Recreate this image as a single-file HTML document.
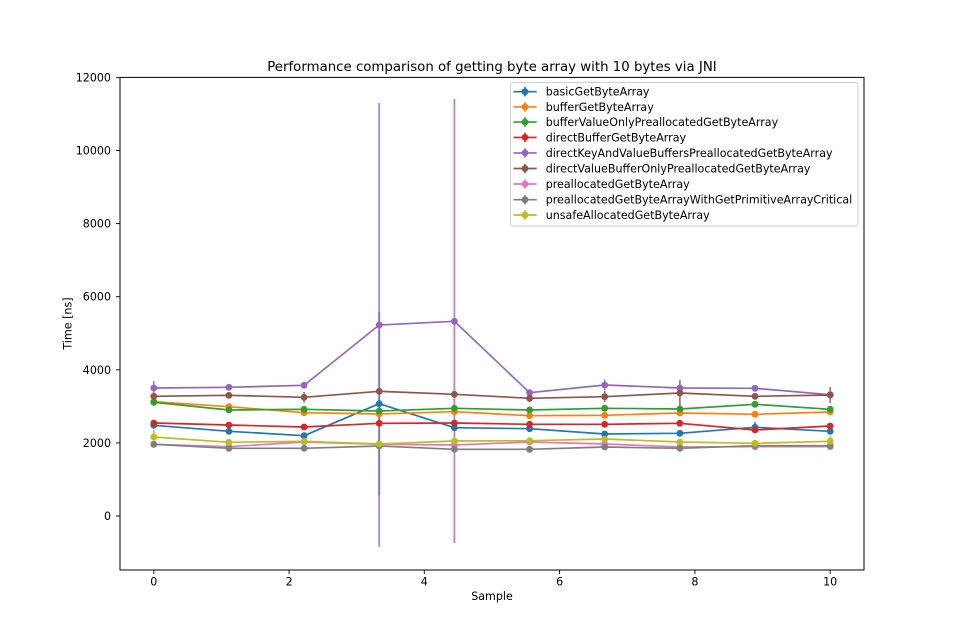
<!DOCTYPE html>
<html><head><meta charset="utf-8"><style>
html,body{margin:0;padding:0;background:#fff;}
svg{display:block;}
text{font-family:"DejaVu Sans","Liberation Sans",sans-serif;fill:#000;}
</style></head><body>
<svg width="960" height="640" viewBox="0 0 960 640" xmlns="http://www.w3.org/2000/svg">
<rect x="0" y="0" width="960" height="640" fill="#fff"/>
<!-- title -->
<text x="492" y="71" font-size="13.33" text-anchor="middle">Performance comparison of getting byte array with 10 bytes via JNI</text>

<!-- error bars (zorder below lines) -->
<g stroke-width="1.8" fill="none" stroke-opacity="0.78">
<line x1="379.2" y1="312" x2="379.2" y2="495.4" stroke="#1f77b4"/>
<line x1="755.0" y1="421.7" x2="755.0" y2="432.9" stroke="#1f77b4"/>
<line x1="153.8" y1="381" x2="153.8" y2="395" stroke="#9467bd"/>
<line x1="379.2" y1="103" x2="379.2" y2="547" stroke="#9467bd"/>
<line x1="454.4" y1="99" x2="454.4" y2="543" stroke="#9467bd"/>
<line x1="604.7" y1="379.5" x2="604.7" y2="390.5" stroke="#9467bd"/>
<line x1="304.1" y1="392" x2="304.1" y2="402.6" stroke="#8c564b"/>
<line x1="529.6" y1="394.3" x2="529.6" y2="402.3" stroke="#8c564b"/>
<line x1="604.7" y1="391" x2="604.7" y2="402" stroke="#8c564b"/>
<line x1="679.9" y1="380" x2="679.9" y2="406" stroke="#8c564b"/>
<line x1="830.2" y1="387" x2="830.2" y2="403" stroke="#8c564b"/>
<line x1="153.8" y1="430" x2="153.8" y2="444" stroke="#bcbd22"/>
<line x1="830.2" y1="436" x2="830.2" y2="446.6" stroke="#bcbd22"/>
</g>

<!-- series -->
<g stroke-width="1.67" fill="none" stroke-linejoin="round" stroke-linecap="butt">
<!-- blue -->
<polyline stroke="#1f77b4" points="153.8,425.3 228.9,431.3 304.1,435.7 379.2,403.7 454.4,427.7 529.6,428.7 604.7,434 679.9,433.3 755.0,427.3 830.2,431.3"/>
<g fill="#1f77b4" stroke="none">
<circle cx="153.8" cy="425.3" r="3.4"/><circle cx="228.9" cy="431.3" r="3.4"/><circle cx="304.1" cy="435.7" r="3.4"/><circle cx="379.2" cy="403.7" r="3.4"/><circle cx="454.4" cy="427.7" r="3.4"/><circle cx="529.6" cy="428.7" r="3.4"/><circle cx="604.7" cy="434" r="3.4"/><circle cx="679.9" cy="433.3" r="3.4"/><circle cx="755.0" cy="427.3" r="3.4"/><circle cx="830.2" cy="431.3" r="3.4"/>
</g>
<!-- orange -->
<polyline stroke="#ff7f0e" points="153.8,401.7 228.9,406.7 304.1,412.7 379.2,414 454.4,411.7 529.6,415.7 604.7,415.3 679.9,413 755.0,414.3 830.2,412"/>
<g fill="#ff7f0e" stroke="none">
<circle cx="153.8" cy="401.7" r="3.4"/><circle cx="228.9" cy="406.7" r="3.4"/><circle cx="304.1" cy="412.7" r="3.4"/><circle cx="379.2" cy="414" r="3.4"/><circle cx="454.4" cy="411.7" r="3.4"/><circle cx="529.6" cy="415.7" r="3.4"/><circle cx="604.7" cy="415.3" r="3.4"/><circle cx="679.9" cy="413" r="3.4"/><circle cx="755.0" cy="414.3" r="3.4"/><circle cx="830.2" cy="412" r="3.4"/>
</g>
<!-- green -->
<polyline stroke="#2ca02c" points="153.8,402.3 228.9,410 304.1,409.3 379.2,411 454.4,408.3 529.6,410 604.7,408.3 679.9,409 755.0,404.3 830.2,409.3"/>
<g fill="#2ca02c" stroke="none">
<circle cx="153.8" cy="402.3" r="3.4"/><circle cx="228.9" cy="410" r="3.4"/><circle cx="304.1" cy="409.3" r="3.4"/><circle cx="379.2" cy="411" r="3.4"/><circle cx="454.4" cy="408.3" r="3.4"/><circle cx="529.6" cy="410" r="3.4"/><circle cx="604.7" cy="408.3" r="3.4"/><circle cx="679.9" cy="409" r="3.4"/><circle cx="755.0" cy="404.3" r="3.4"/><circle cx="830.2" cy="409.3" r="3.4"/>
</g>
<!-- red -->
<polyline stroke="#d62728" points="153.8,423 228.9,425 304.1,427 379.2,423.3 454.4,423 529.6,424.3 604.7,424.3 679.9,423.3 755.0,430 830.2,426"/>
<g fill="#d62728" stroke="none">
<circle cx="153.8" cy="423" r="3.4"/><circle cx="228.9" cy="425" r="3.4"/><circle cx="304.1" cy="427" r="3.4"/><circle cx="379.2" cy="423.3" r="3.4"/><circle cx="454.4" cy="423" r="3.4"/><circle cx="529.6" cy="424.3" r="3.4"/><circle cx="604.7" cy="424.3" r="3.4"/><circle cx="679.9" cy="423.3" r="3.4"/><circle cx="755.0" cy="430" r="3.4"/><circle cx="830.2" cy="426" r="3.4"/>
</g>
<!-- purple -->
<polyline stroke="#9467bd" points="153.8,388 228.9,387.3 304.1,385.3 379.2,325 454.4,321.3 529.6,392.7 604.7,385 679.9,388 755.0,388.3 830.2,394.7"/>
<g fill="#9467bd" stroke="none">
<circle cx="153.8" cy="388" r="3.4"/><circle cx="228.9" cy="387.3" r="3.4"/><circle cx="304.1" cy="385.3" r="3.4"/><circle cx="379.2" cy="325" r="3.4"/><circle cx="454.4" cy="321.3" r="3.4"/><circle cx="529.6" cy="392.7" r="3.4"/><circle cx="604.7" cy="385" r="3.4"/><circle cx="679.9" cy="388" r="3.4"/><circle cx="755.0" cy="388.3" r="3.4"/><circle cx="830.2" cy="394.7" r="3.4"/>
</g>
<!-- brown -->
<polyline stroke="#8c564b" points="153.8,396.3 228.9,395.3 304.1,397.3 379.2,391.3 454.4,394.3 529.6,398.3 604.7,396.7 679.9,393 755.0,396.3 830.2,395"/>
<g fill="#8c564b" stroke="none">
<circle cx="153.8" cy="396.3" r="3.4"/><circle cx="228.9" cy="395.3" r="3.4"/><circle cx="304.1" cy="397.3" r="3.4"/><circle cx="379.2" cy="391.3" r="3.4"/><circle cx="454.4" cy="394.3" r="3.4"/><circle cx="529.6" cy="398.3" r="3.4"/><circle cx="604.7" cy="396.7" r="3.4"/><circle cx="679.9" cy="393" r="3.4"/><circle cx="755.0" cy="396.3" r="3.4"/><circle cx="830.2" cy="395" r="3.4"/>
</g>
<!-- pink -->
<polyline stroke="#e377c2" points="153.8,444.3 228.9,446.7 304.1,442 379.2,444.3 454.4,445 529.6,442 604.7,444 679.9,447 755.0,446.7 830.2,446.7"/>
<g fill="#e377c2" stroke="none">
<circle cx="153.8" cy="444.3" r="3.4"/><circle cx="228.9" cy="446.7" r="3.4"/><circle cx="304.1" cy="442" r="3.4"/><circle cx="379.2" cy="444.3" r="3.4"/><circle cx="454.4" cy="445" r="3.4"/><circle cx="529.6" cy="442" r="3.4"/><circle cx="604.7" cy="444" r="3.4"/><circle cx="679.9" cy="447" r="3.4"/><circle cx="755.0" cy="446.7" r="3.4"/><circle cx="830.2" cy="446.7" r="3.4"/>
</g>
<!-- grey -->
<polyline stroke="#7f7f7f" points="153.8,444.3 228.9,448.3 304.1,448.3 379.2,446 454.4,449.3 529.6,449.3 604.7,447 679.9,448.3 755.0,445.7 830.2,445.7"/>
<g fill="#7f7f7f" stroke="none">
<circle cx="153.8" cy="444.3" r="3.4"/><circle cx="228.9" cy="448.3" r="3.4"/><circle cx="304.1" cy="448.3" r="3.4"/><circle cx="379.2" cy="446" r="3.4"/><circle cx="454.4" cy="449.3" r="3.4"/><circle cx="529.6" cy="449.3" r="3.4"/><circle cx="604.7" cy="447" r="3.4"/><circle cx="679.9" cy="448.3" r="3.4"/><circle cx="755.0" cy="445.7" r="3.4"/><circle cx="830.2" cy="445.7" r="3.4"/>
</g>
<!-- olive -->
<polyline stroke="#bcbd22" points="153.8,437 228.9,442.3 304.1,441.3 379.2,444 454.4,441 529.6,440.7 604.7,439 679.9,442 755.0,443.3 830.2,441.3"/>
<g fill="#bcbd22" stroke="none">
<circle cx="153.8" cy="437" r="3.4"/><circle cx="228.9" cy="442.3" r="3.4"/><circle cx="304.1" cy="441.3" r="3.4"/><circle cx="379.2" cy="444" r="3.4"/><circle cx="454.4" cy="441" r="3.4"/><circle cx="529.6" cy="440.7" r="3.4"/><circle cx="604.7" cy="439" r="3.4"/><circle cx="679.9" cy="442" r="3.4"/><circle cx="755.0" cy="443.3" r="3.4"/><circle cx="830.2" cy="441.3" r="3.4"/>
</g>
</g>

<!-- axes frame -->
<rect x="120" y="77.4" width="744" height="492.6" fill="none" stroke="#000" stroke-width="1"/>

<!-- x ticks -->
<g stroke="#000" stroke-width="0.9">
<line x1="153.8" y1="570" x2="153.8" y2="574"/>
<line x1="289.1" y1="570" x2="289.1" y2="574"/>
<line x1="424.3" y1="570" x2="424.3" y2="574"/>
<line x1="559.6" y1="570" x2="559.6" y2="574"/>
<line x1="694.9" y1="570" x2="694.9" y2="574"/>
<line x1="830.2" y1="570" x2="830.2" y2="574"/>
</g>
<g font-size="11.1" text-anchor="middle">
<text x="153.8" y="585.6">0</text>
<text x="289.1" y="585.6">2</text>
<text x="424.3" y="585.6">4</text>
<text x="559.6" y="585.6">6</text>
<text x="694.9" y="585.6">8</text>
<text x="830.2" y="585.6">10</text>
</g>
<text x="492" y="600" font-size="11.1" text-anchor="middle">Sample</text>

<!-- y ticks -->
<g stroke="#000" stroke-width="0.9">
<line x1="116" y1="516" x2="120" y2="516"/>
<line x1="116" y1="442.9" x2="120" y2="442.9"/>
<line x1="116" y1="369.8" x2="120" y2="369.8"/>
<line x1="116" y1="296.7" x2="120" y2="296.7"/>
<line x1="116" y1="223.6" x2="120" y2="223.6"/>
<line x1="116" y1="150.5" x2="120" y2="150.5"/>
<line x1="116" y1="77.7" x2="120" y2="77.7"/>
</g>
<g font-size="11.1" text-anchor="end">
<text x="111" y="520">0</text>
<text x="111" y="446.9">2000</text>
<text x="111" y="373.8">4000</text>
<text x="111" y="300.7">6000</text>
<text x="111" y="227.6">8000</text>
<text x="111" y="154.5">10000</text>
<text x="111" y="81.7">12000</text>
</g>
<text transform="translate(71.5,323.5) rotate(-90)" font-size="11.1" text-anchor="middle">Time [ns]</text>

<!-- legend -->
<rect x="510.5" y="82.5" width="347.5" height="143.5" rx="2.5" ry="2.5" fill="#fff" fill-opacity="0.8" stroke="#cccccc" stroke-width="0.9"/>
<g stroke-width="1.67">
<g stroke="#1f77b4" fill="#1f77b4"><line x1="513.5" y1="91.7" x2="536.7" y2="91.7"/><line x1="525" y1="87" x2="525" y2="96.4"/><circle cx="525" cy="91.7" r="3.4" stroke="none"/></g>
<g stroke="#ff7f0e" fill="#ff7f0e"><line x1="513.5" y1="106.9" x2="536.7" y2="106.9"/><line x1="525" y1="102.2" x2="525" y2="111.6"/><circle cx="525" cy="106.9" r="3.4" stroke="none"/></g>
<g stroke="#2ca02c" fill="#2ca02c"><line x1="513.5" y1="122.1" x2="536.7" y2="122.1"/><line x1="525" y1="117.4" x2="525" y2="126.8"/><circle cx="525" cy="122.1" r="3.4" stroke="none"/></g>
<g stroke="#d62728" fill="#d62728"><line x1="513.5" y1="137.4" x2="536.7" y2="137.4"/><line x1="525" y1="132.7" x2="525" y2="142.1"/><circle cx="525" cy="137.4" r="3.4" stroke="none"/></g>
<g stroke="#9467bd" fill="#9467bd"><line x1="513.5" y1="152.9" x2="536.7" y2="152.9"/><line x1="525" y1="148.2" x2="525" y2="157.6"/><circle cx="525" cy="152.9" r="3.4" stroke="none"/></g>
<g stroke="#8c564b" fill="#8c564b"><line x1="513.5" y1="168.5" x2="536.7" y2="168.5"/><line x1="525" y1="163.8" x2="525" y2="173.2"/><circle cx="525" cy="168.5" r="3.4" stroke="none"/></g>
<g stroke="#e377c2" fill="#e377c2"><line x1="513.5" y1="184" x2="536.7" y2="184"/><line x1="525" y1="179.3" x2="525" y2="188.7"/><circle cx="525" cy="184" r="3.4" stroke="none"/></g>
<g stroke="#7f7f7f" fill="#7f7f7f"><line x1="513.5" y1="199.7" x2="536.7" y2="199.7"/><line x1="525" y1="195" x2="525" y2="204.4"/><circle cx="525" cy="199.7" r="3.4" stroke="none"/></g>
<g stroke="#bcbd22" fill="#bcbd22"><line x1="513.5" y1="215" x2="536.7" y2="215"/><line x1="525" y1="210.3" x2="525" y2="219.7"/><circle cx="525" cy="215" r="3.4" stroke="none"/></g>
</g>
<g font-size="11.1">
<text x="545.7" y="95.6">basicGetByteArray</text>
<text x="545.7" y="110.8">bufferGetByteArray</text>
<text x="545.7" y="126">bufferValueOnlyPreallocatedGetByteArray</text>
<text x="545.7" y="141.3">directBufferGetByteArray</text>
<text x="545.7" y="156.8">directKeyAndValueBuffersPreallocatedGetByteArray</text>
<text x="545.7" y="172.4">directValueBufferOnlyPreallocatedGetByteArray</text>
<text x="545.7" y="187.9">preallocatedGetByteArray</text>
<text x="545.7" y="203.6">preallocatedGetByteArrayWithGetPrimitiveArrayCritical</text>
<text x="545.7" y="218.9">unsafeAllocatedGetByteArray</text>
</g>
</svg>
</body></html>
